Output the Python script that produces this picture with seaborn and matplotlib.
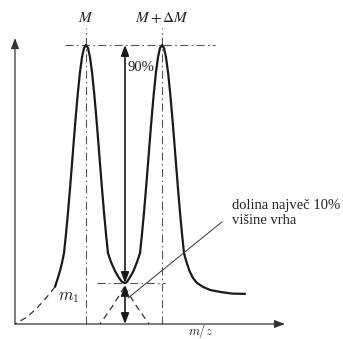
import matplotlib
matplotlib.use("Agg")
import matplotlib.pyplot as plt
import seaborn as sns
import pandas as pd

# m/z in arbitrary units (0 = origin), intensity in % of the peak height
peak_mz = [71, 147]
peak_labels = ["$M$", "$M + \\Delta M$"]
valley_int = 14.7

signal_mz = [40, 42.5, 45, 47, 49, 51, 53, 55, 57, 59, 61, 63, 65, 67, 69, 71,
             73, 75, 77, 79, 81, 83, 85, 87, 89, 91, 93, 96, 100, 104, 107, 109.5,
             112, 114.5, 118.5, 122, 125, 127, 129, 131, 133, 135, 137, 139, 141, 143, 145, 147,
             149, 151, 153, 155, 157, 159, 161, 163, 165, 167, 169, 171.5, 174.5, 178, 182,
             188, 195, 205, 217, 230]
signal_int = [13.3, 16.1, 19.0, 21.9, 25.4, 32.3, 40.0, 48.5, 57.5, 66.6, 75.4, 83.4, 90.3, 95.6, 98.9, 100,
              98.9, 95.6, 90.3, 83.4, 75.4, 66.6, 57.5, 48.5, 40.0, 32.3, 25.4, 22.2, 19.0, 16.5, 15.1, 14.7,
              15.1, 16.5, 19.0, 22.2, 25.4, 32.3, 40.0, 48.5, 57.5, 66.6, 75.4, 83.4, 90.3, 95.6, 98.9, 100,
              98.9, 95.6, 90.3, 83.4, 75.4, 66.6, 57.5, 48.5, 40.0, 32.3, 25.4, 22.2, 19.0, 16.5, 14.7,
              13.3, 12.2, 11.5, 10.9, 10.8]

# dashed tails of the single peaks
tail_m1_mz = [40, 31, 22, 12, 0]
tail_m1_int = [13.3, 9.3, 5.7, 2.5, 0]
tail_b_mz = [109.5, 97, 85]
tail_b_int = [13.3, 6.1, 0]
tail_a_mz = [109.5, 122, 134]
tail_a_int = [13.3, 6.1, 0]

sns.set_style("white")
plt.rcParams["font.family"] = ["Liberation Serif", "DejaVu Serif"]

fig = plt.figure(figsize=(3.43, 3.39), dpi=100)
ax = fig.add_axes([0, 0, 1, 1])
ax.set_xlim(-15, 328)
ax.set_ylim(-5.376, 116.13)
ax.axis("off")

dashdot = (7.2, 3.1, 1.35, 3.1)
grey = "#555555"

# reference lines
for x in peak_mz:
    ax.plot([x, x], [0, 106.1], color=grey, lw=0.8, dashes=dashdot)
ax.plot([50, 200], [100, 100], color=grey, lw=0.8, dashes=dashdot)
ax.plot([82, 150], [valley_int, valley_int], color=grey, lw=0.8, dashes=dashdot)

# axes with arrows
arrow = dict(arrowstyle="-|>,head_length=0.45,head_width=0.17", color="#333333",
             lw=0.9, shrinkA=0, shrinkB=0, mutation_scale=14)
ax.annotate("", xy=(0, 102.5), xytext=(0, 0), arrowprops=arrow)
ax.annotate("", xy=(270, 0), xytext=(0, 0), arrowprops=arrow)

# curves
sig = pd.DataFrame({"mz": signal_mz, "i": signal_int})
sns.lineplot(data=sig, x="mz", y="i", sort=False, estimator=None, color="#1a1a1a", lw=1.6, ax=ax)
for mz, it in [(tail_m1_mz, tail_m1_int), (tail_b_mz, tail_b_int), (tail_a_mz, tail_a_int)]:
    d = pd.DataFrame({"mz": mz, "i": it})
    sns.lineplot(data=d, x="mz", y="i", sort=False, estimator=None, color="#333333",
                 lw=0.9, dashes=False, ax=ax, linestyle=(0, (5, 3.5)))

# double arrows (90 % and 10 %)
dbl = dict(arrowstyle="<|-|>,head_length=0.45,head_width=0.17", color="#1a1a1a",
           lw=1.2, shrinkA=0, shrinkB=0, mutation_scale=14)
ax.annotate("", xy=(110, 100), xytext=(110, valley_int), arrowprops=dbl)
ax.annotate("", xy=(110, 14.0), xytext=(110, 0), arrowprops=dbl)

# pointer line
ax.plot([113, 207], [9.3, 36.6], color="#333333", lw=0.7)

# texts
for x, lab in zip(peak_mz, peak_labels):
    ax.text(x, 109.7, lab, ha="center", va="center", fontsize=11,
            math_fontfamily="stix", color="#222222")
ax.text(113, 92.1, "90%", ha="left", va="center", fontsize=10.5, color="#222222")
ax.text(217, 39.8, "dolina največ 10%\nvišine vrha", ha="left", va="center",
        fontsize=10.5, linespacing=1.15, color="#222222")
ax.text(43, 9.7, "$m_1$", ha="left", va="center", fontsize=12,
        math_fontfamily="cm", color="#222222")
ax.text(186, -2.6, "$m/z$", ha="center", va="center", fontsize=9,
        math_fontfamily="cm", color="#222222")

fig.savefig("out.png", dpi=100)
